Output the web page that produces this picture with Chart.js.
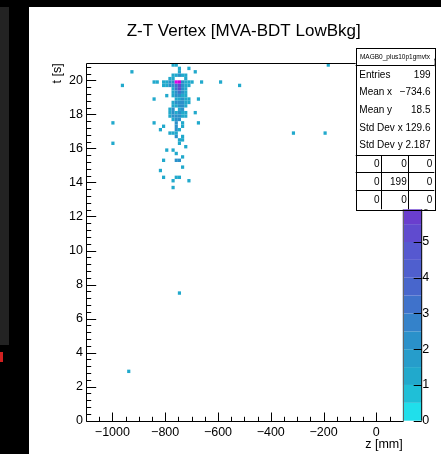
<!DOCTYPE html>
<html><head><meta charset="utf-8">
<script src="https://cdn.jsdelivr.net/npm/chart.js@4.4.1/dist/chart.umd.min.js"></script>
<style>
html,body{margin:0;padding:0;background:#000;width:441px;height:454px;overflow:hidden}
#strip{position:absolute;left:0;top:7px;width:9px;height:338px;background:#232323}
#red{position:absolute;left:0;top:352px;width:3px;height:10px;background:#d02020}
#wrap{position:absolute;left:29px;top:7px;width:412px;height:447px;background:#fff}
canvas{display:block}
</style></head><body>
<div id="strip"></div><div id="red"></div>
<div id="wrap"><canvas id="c" width="412" height="447"></canvas></div>
<script>
// ---- data (bin centres) ----
const binZ = [
 -770,-758,-182,
 -746,-710,
 -926,-746,-686,
 -770,-758,-746,-734,-722,
 -782,-770,-722,
 -842,-830,-806,-794,-782,-770,-758,-746,-734,-722,-710,-698,-662,-590,
 -962,-806,-794,-782,-770,-758,-746,-734,-722,-710,-518,
 -770,-758,-746,-734,-722,
 -770,-758,-746,-734,-722,
 -794,-770,-758,-746,-734,-722,
 -842,-758,-746,-734,-722,-710,-674,
 -770,-758,-746,-734,-722,-710,
 -770,-758,-746,-734,-722,
 -782,-770,-746,-734,
 -782,-770,-758,-746,-734,-722,-686,
 -782,-770,-758,-746,-734,-722,
 -770,-758,-746,
 -998,-842,-758,-734,-674,
 -806,-758,-734,
 -818,-758,-746,
 -782,-770,-758,-314,-194,
 -758,-734,
 -746,-734,
 -998,-746,
 -722,
 -794,-770,
 -758,
 -734,
 -806,-758,-746,
 -734,
 -818,
 -806,-758,-746,
 -770,-710,
 -770,
 -746,
 -938
];
const binT = [
 20.9,20.9,20.9,
 20.7,20.7,
 20.5,20.5,20.5,
 20.3,20.3,20.3,20.3,20.3,
 20.1,20.1,20.1,
 19.9,19.9,19.9,19.9,19.9,19.9,19.9,19.9,19.9,19.9,19.9,19.9,19.9,19.9,
 19.7,19.7,19.7,19.7,19.7,19.7,19.7,19.7,19.7,19.7,19.7,
 19.5,19.5,19.5,19.5,19.5,
 19.3,19.3,19.3,19.3,19.3,
 19.1,19.1,19.1,19.1,19.1,19.1,
 18.9,18.9,18.9,18.9,18.9,18.9,18.9,
 18.7,18.7,18.7,18.7,18.7,18.7,
 18.5,18.5,18.5,18.5,18.5,
 18.3,18.3,18.3,18.3,
 18.1,18.1,18.1,18.1,18.1,18.1,18.1,
 17.9,17.9,17.9,17.9,17.9,17.9,
 17.7,17.7,17.7,
 17.5,17.5,17.5,17.5,17.5,
 17.3,17.3,17.3,
 17.1,17.1,17.1,
 16.9,16.9,16.9,16.9,16.9,
 16.7,16.7,
 16.5,16.5,
 16.3,16.3,
 16.1,
 15.9,15.9,
 15.7,
 15.5,
 15.3,15.3,15.3,
 14.9,
 14.7,
 14.3,14.3,14.3,
 14.1,14.1,
 13.7,
 7.5,
 2.9
];
const binN = [
 1,1,1,
 1,1,
 1,1,1,
 1,1,2,1,1,
 1,1,1,
 1,1,1,1,2,2,10,9,2,1,1,1,1,1,
 1,1,1,2,2,3,5,2,1,1,1,
 1,3,5,2,1,
 1,2,3,2,1,
 1,1,2,2,1,1,
 1,1,1,2,1,1,1,
 1,2,2,2,1,1,
 1,1,2,2,1,
 1,2,1,2,
 1,2,1,2,1,1,1,
 1,2,2,2,1,1,
 1,2,2,
 1,1,2,1,1,
 1,2,1,
 1,2,1,
 1,1,1,1,1,
 2,1,
 1,1,
 1,1,
 1,
 1,1,
 1,
 1,
 1,2,2,
 1,
 1,
 1,1,1,
 1,1,
 1,
 1,
 1
];
const xTicks = [-1000,-800,-600,-400,-200,0];
const yTicks = [0,2,4,6,8,10,12,14,16,18,20];
const zTicks = [0,1,2,3,4,5,6,7,8,9,10];
const statsName = 'MAGB0_plus10p1gmvtx';
const statsLabels = ['Entries','Mean x','Mean y','Std Dev x','Std Dev y'];
const statsValues = ['199','\u2212734.6','18.5','129.6','2.187'];
const statsTable = [[0,0,0],[0,199,0],[0,0,0]];
const titleText = 'Z-T Vertex [MVA-BDT LowBkg]';

// ---- style helpers ----
const FONT = "'Liberation Sans', Arial, Helvetica, sans-serif";
const BIN_HW = 6, BIN_HH = 0.1, NLEV = 20, ZMAX = 10;
const stopF=[0,.125,.25,.375,.5,.625,.75,.875,1];
const stopR=[33,31,42,68,86,111,141,172,227];
const stopG=[255,175,145,106,88,55,15,0,0];
const stopB=[255,205,202,203,208,205,203,206,231];
function levelColor(i){
  const f=(i+0.99)/NLEV; let s=0;
  while(s<7 && f>stopF[s+1]) s++;
  const t=(f-stopF[s])/(stopF[s+1]-stopF[s]);
  const c=k=>Math.round(k[s]+t*(k[s+1]-k[s]));
  return `rgb(${c(stopR)},${c(stopG)},${c(stopB)})`;
}
function levelOf(v){ return Math.min(NLEV-1, Math.floor(0.01 + v*NLEV/ZMAX)); }
const fmt = v => v<0 ? '\u2212'+Math.abs(v) : String(v);

const rootPlugin = {
  id:'rootPainter',
  afterLayout(chart){
    const tb = chart.titleBlock;
    if (tb){ tb.left = 214.7-170; tb.right = 214.7+170; }
  },
  beforeDatasetsDraw(chart){
    const {ctx, chartArea:a, scales:{x,y}} = chart;
    ctx.save();
    ctx.beginPath(); ctx.rect(a.left,a.top,a.right-a.left,a.bottom-a.top); ctx.clip();
    const data = chart.data.datasets[0].data;
    data.forEach(p=>{
      const x0=x.getPixelForValue(p.x-BIN_HW), x1=x.getPixelForValue(p.x+BIN_HW);
      const y0=y.getPixelForValue(p.y+BIN_HH), y1=y.getPixelForValue(p.y-BIN_HH);
      ctx.fillStyle = levelColor(levelOf(p.v));
      ctx.fillRect(x0,y0,x1-x0,y1-y0);
    });
    ctx.restore();
  },
  afterDatasetsDraw(chart){
    const {ctx, chartArea:a, scales:{x,y,z}} = chart;
    ctx.save();
    // colour bar
    const cbL=a.right, cbR=a.right+19;
    for(let i=0;i<NLEV;i++){
      const v0=i*ZMAX/NLEV, v1=(i+1)*ZMAX/NLEV;
      const p0=z.getPixelForValue(v0), p1=z.getPixelForValue(v1);
      ctx.fillStyle=levelColor(i);
      ctx.fillRect(cbL,p1,cbR-cbL,p0-p1);
    }
    ctx.strokeStyle='#000'; ctx.lineWidth=1;
    ctx.beginPath();
    ctx.moveTo(cbR,a.top); ctx.lineTo(cbR,a.bottom);
    zTicks.forEach(v=>{const p=Math.round(z.getPixelForValue(v))+0.5; ctx.moveTo(cbR,p); ctx.lineTo(cbR-8,p);});
    ctx.stroke();
    // frame
    ctx.beginPath();
    const L=Math.round(a.left)+0.5, B=Math.round(a.bottom)+0.5, T=Math.round(a.top)+0.5, R=Math.round(a.right)+0.5;
    ctx.moveTo(L,T); ctx.lineTo(L,B); ctx.lineTo(R,B);
    ctx.moveTo(L,T); ctx.lineTo(cbR,T);
    ctx.stroke();
    ctx.strokeStyle='#666';
    ctx.beginPath(); ctx.moveTo(R,T); ctx.lineTo(R,B); ctx.stroke();
    ctx.strokeStyle='#000';
    // axis ticks (inward)
    ctx.beginPath();
    for(let v=-1100; v<=100; v+=50){
      const p=Math.round(x.getPixelForValue(v))+0.5;
      const len = xTicks.includes(v) ? 9 : 4.7;
      if (v===-1100||v===100) continue;
      ctx.moveTo(p,B); ctx.lineTo(p,B-len);
    }
    for(let k=0;k<=52;k++){
      const v=k*0.4; if(v>21) break;
      const p=Math.round(y.getPixelForValue(v))+0.5;
      const len = (k%5===0) ? 9.7 : 4.7;
      ctx.moveTo(L,p); ctx.lineTo(L+len,p);
    }
    ctx.stroke();
    ctx.restore();
  },
  afterDraw(chart){
    const ctx=chart.ctx;
    ctx.save();
    const bx0=326.7, by0=40.7, bx1=405.3, by1=202.3;
    ctx.fillStyle='#fff'; ctx.fillRect(bx0,by0,bx1-bx0,by1-by0);
    ctx.strokeStyle='#000'; ctx.lineWidth=1;
    ctx.strokeRect(Math.round(bx0)+0.5,Math.round(by0)+0.5,Math.round(bx1-bx0),Math.round(by1-by0));
    ctx.beginPath();
    ctx.moveTo(bx0,58.5); ctx.lineTo(bx1,58.5);
    ctx.moveTo(bx0,148.5); ctx.lineTo(bx1,148.5);
    ctx.moveTo(bx0,165.5); ctx.lineTo(bx1,165.5);
    ctx.moveTo(bx0,183.5); ctx.lineTo(bx1,183.5);
    ctx.moveTo(352.5,148.5); ctx.lineTo(352.5,by1);
    ctx.moveTo(379.5,148.5); ctx.lineTo(379.5,by1);
    ctx.stroke();
    ctx.fillStyle='#000';
    ctx.textBaseline='middle';
    ctx.font=`6.5px ${FONT}`; ctx.textAlign='center';
    ctx.fillText(statsName,(bx0+bx1)/2,50);
    ctx.font=`10px ${FONT}`;
    const rows=[68,85.7,103,121.7,138.7];
    statsLabels.forEach((l,i)=>{
      ctx.textAlign='left'; ctx.fillText(l,330.3,rows[i]);
      ctx.textAlign='right'; ctx.fillText(statsValues[i],401.5,rows[i]);
    });
    const cx=[350.5,377.7,403.3], cy=[157.3,175.3,193];
    ctx.textAlign='right';
    statsTable.forEach((r,i)=>r.forEach((v,j)=>ctx.fillText(String(v),cx[j],cy[i])));
    ctx.restore();
  }
};

const tickFont = {family:FONT, size:12.5};
const noGrid = {display:false, drawTicks:false, tickLength:0};
new Chart(document.getElementById('c'), {
  type:'scatter',
  data:{datasets:[{
    data: binZ.map((z,k)=>({x:z, y:binT[k], v:binN[k]})),
    pointRadius:0, pointHoverRadius:0, borderWidth:0
  }]},
  options:{
    responsive:false, animation:false, events:[], devicePixelRatio:1,
    layout:{padding:0},
    plugins:{
      legend:{display:false}, tooltip:{enabled:false},
      title:{display:true, text:titleText, color:'#000',
        font:{family:FONT, size:17, weight:'normal'}, padding:{top:14.6,bottom:21.3}}
    },
    scales:{
      x:{type:'linear', min:-1100, max:100, position:'bottom',
        grid:noGrid, border:{display:false},
        afterBuildTicks:s=>{s.ticks=xTicks.map(v=>({value:v}));},
        afterFit:s=>{s.height=33.3;},
        ticks:{color:'#000', font:tickFont, padding:4, maxRotation:0, autoSkip:false, callback:v=>fmt(v)},
        title:{display:true, text:'z [mm]', align:'end', color:'#000', font:tickFont, padding:{top:0,bottom:1.5}}
      },
      y:{type:'linear', min:0, max:21, position:'left',
        grid:noGrid, border:{display:false},
        afterBuildTicks:s=>{s.ticks=yTicks.map(v=>({value:v}));},
        afterFit:s=>{s.width=57;},
        ticks:{color:'#000', font:tickFont, padding:3, autoSkip:false, callback:v=>fmt(v)},
        title:{display:true, text:'t [s]', align:'end', color:'#000', font:tickFont, padding:{top:21.5,bottom:0}}
      },
      z:{type:'linear', axis:'y', min:0, max:ZMAX, position:'right',
        grid:noGrid, border:{display:false},
        afterBuildTicks:s=>{s.ticks=zTicks.map(v=>({value:v}));},
        afterFit:s=>{s.width=38.3;},
        ticks:{color:'#000', font:tickFont, padding:19.5, autoSkip:false, callback:v=>fmt(v)}
      }
    }
  },
  plugins:[rootPlugin]
});
</script></body></html>
